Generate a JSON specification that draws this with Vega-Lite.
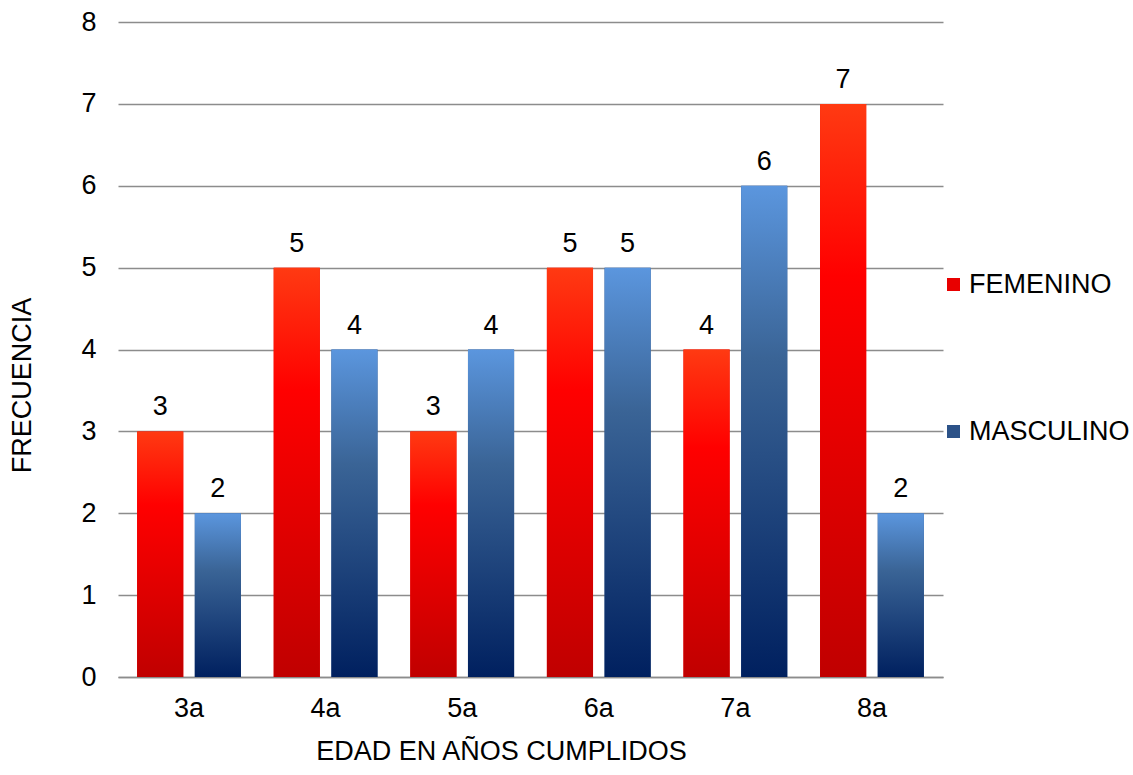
{
  "$schema": "https://vega.github.io/schema/vega-lite/v6.json",
  "autosize": {"type": "none"},
  "padding": {"left": 118, "top": 22, "right": 190, "bottom": 98},
  "width": 825,
  "height": 655,
  "background": "white",
  "config": {
    "font": "Liberation Sans",
    "view": {"stroke": null}
  },
  "data": {
    "values": [
      {"edad": "3a", "sexo": "FEMENINO", "n": 3},
      {"edad": "3a", "sexo": "MASCULINO", "n": 2},
      {"edad": "4a", "sexo": "FEMENINO", "n": 5},
      {"edad": "4a", "sexo": "MASCULINO", "n": 4},
      {"edad": "5a", "sexo": "FEMENINO", "n": 3},
      {"edad": "5a", "sexo": "MASCULINO", "n": 4},
      {"edad": "6a", "sexo": "FEMENINO", "n": 5},
      {"edad": "6a", "sexo": "MASCULINO", "n": 5},
      {"edad": "7a", "sexo": "FEMENINO", "n": 4},
      {"edad": "7a", "sexo": "MASCULINO", "n": 6},
      {"edad": "8a", "sexo": "FEMENINO", "n": 7},
      {"edad": "8a", "sexo": "MASCULINO", "n": 2}
    ]
  },
  "encoding": {
    "x": {
      "field": "edad",
      "type": "nominal",
      "scale": {"paddingInner": 0.24, "paddingOuter": 0.14},
      "axis": {
        "title": "EDAD EN AÑOS CUMPLIDOS",
        "titleFont": "Liberation Sans",
        "titleFontSize": 27,
        "titleFontWeight": "normal",
        "titleColor": "#000000",
        "titlePadding": 17,
        "titleX": 383,
        "labelAngle": 0,
        "labelFontSize": 27,
        "labelColor": "#000000",
        "labelPadding": 18,
        "ticks": false,
        "domainColor": "#8c8c8c",
        "domainWidth": 1.5,
        "grid": false
      }
    },
    "xOffset": {"field": "sexo", "type": "nominal", "scale": {"paddingInner": 0.2}},
    "y": {
      "field": "n",
      "type": "quantitative",
      "scale": {"domain": [0, 8]},
      "axis": {
        "title": "FRECUENCIA",
        "titleFont": "Liberation Sans",
        "titleFontSize": 27,
        "titleFontWeight": "normal",
        "titleColor": "#000000",
        "titlePadding": 44,
        "titleY": 363,
        "tickCount": 8,
        "labelFontSize": 27,
        "labelColor": "#000000",
        "labelPadding": 22,
        "ticks": false,
        "domain": false,
        "gridColor": "#8c8c8c",
        "gridWidth": 1.5
      }
    }
  },
  "layer": [
    {
      "mark": {"type": "bar"},
      "encoding": {
        "color": {
          "field": "sexo",
          "type": "nominal",
          "scale": {
            "domain": ["FEMENINO", "MASCULINO"],
            "range": ["#E80000", "#2C5288"]
          },
          "legend": {
            "title": null,
            "orient": "none",
            "legendX": 822,
            "legendY": 249,
            "symbolType": "square",
            "symbolSize": 169,
            "symbolStrokeWidth": 0,
            "labelFontSize": 27,
            "labelColor": "#000000",
            "labelOffset": 2,
            "labelLimit": 400,
            "rowPadding": 119
          }
        }
      }
    },
    {
      "transform": [{"filter": "datum.sexo === 'FEMENINO'"}],
      "mark": {
        "type": "bar",
        "color": {"gradient": "linear", "x1": 0, "y1": 0, "x2": 0, "y2": 1,
          "stops": [
            {"offset": 0, "color": "#FF3A12"},
            {"offset": 0.3, "color": "#FF0000"},
            {"offset": 1, "color": "#C00000"}
          ]}
      }
    },
    {
      "transform": [{"filter": "datum.sexo === 'MASCULINO'"}],
      "mark": {
        "type": "bar",
        "color": {"gradient": "linear", "x1": 0, "y1": 0, "x2": 0, "y2": 1,
          "stops": [
            {"offset": 0, "color": "#5B96DE"},
            {"offset": 0.35, "color": "#3A6496"},
            {"offset": 1, "color": "#00205F"}
          ]}
      }
    },
    {
      "mark": {"type": "text", "baseline": "alphabetic", "dy": -16, "fontSize": 27, "color": "#000000"},
      "encoding": {"text": {"field": "n", "type": "quantitative"}}
    }
  ]
}
